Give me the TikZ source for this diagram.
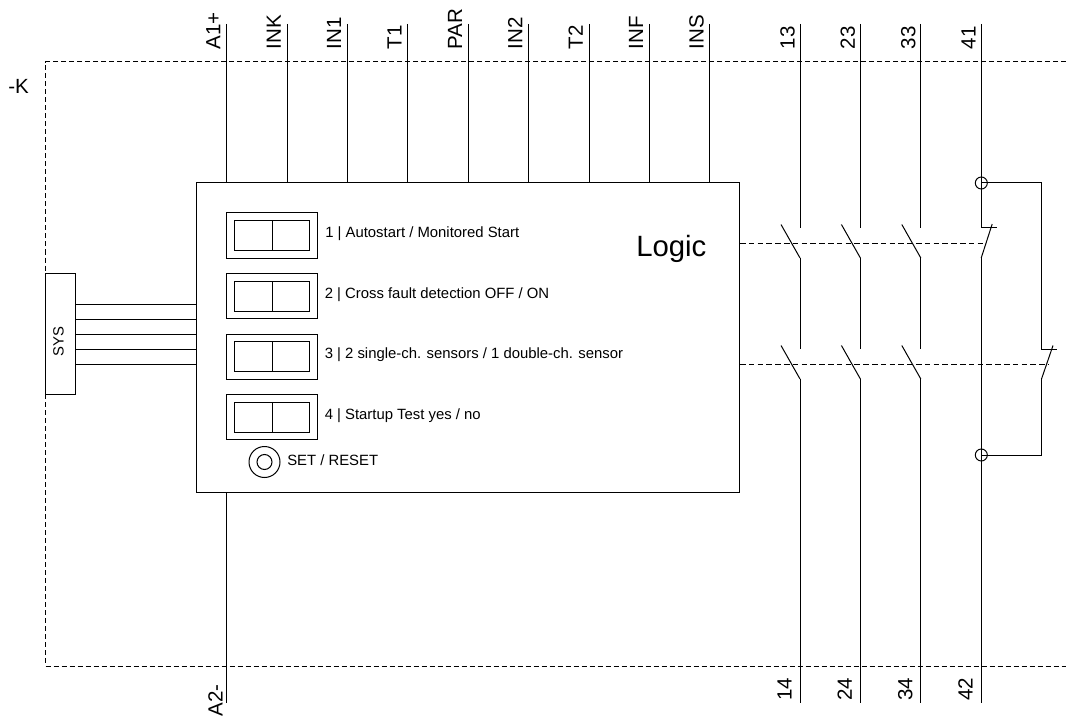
\documentclass[tikz,border=0pt]{standalone}
\usepackage{fontspec}
\setmainfont{Liberation Sans}
\newcommand{\smalltxt}{\fontsize{11.15}{13}\selectfont}
\newcommand{\bigtxt}{\fontsize{15.4}{18}\selectfont}
\newcommand{\hugetxt}{\fontsize{22}{26}\selectfont}
\tikzset{
  wire/.style={draw=black,line width=0.75pt},
  framedash/.style={draw=black,line width=0.75pt,dash pattern=on 3.75pt off 2.25pt},
  mechdash/.style={draw=black,line width=0.75pt,dash pattern=on 4.2pt off 2.4pt},
  boxnode/.style={draw=black,line width=0.75pt,rectangle,inner sep=0pt,outer sep=0pt,anchor=north west},
  ringnode/.style={draw=black,line width=0.75pt,circle,inner sep=0pt,outer sep=0pt},
  termlabel/.style={rotate=90,anchor=base west,inner sep=0pt,font=\bigtxt},
  txt/.style={anchor=base west,inner sep=0pt,font=\smalltxt}
}
\begin{document}
\begin{tikzpicture}[x=0.75pt,y=-0.75pt]
\useasboundingbox (0,0) rectangle (1066,720);
% frame corners and boxes
\node[boxnode,minimum width=407.6pt,minimum height=231.75pt] (logic) at (196.5,183) {};
\node[boxnode,minimum width=22.5pt,minimum height=90.4pt] (sys) at (45.5,273.5) {};
\coordinate (ftr) at (1066,62);
\coordinate (ftl) at (45.5,62);
\coordinate (fbl) at (45.5,666);
\coordinate (fbr) at (1066,666);
\draw[framedash] (ftr) -- (ftl) -- (sys.north west);
\draw[framedash] (sys.south west) -- (fbl) -- (fbr);
\node[anchor=base west,inner sep=0pt,font=\bigtxt] (klabel) at (8,94) {-K};
\node[anchor=base west,inner sep=0pt,font=\hugetxt] (logiclabel) at (636,257) {Logic};
\node[rotate=90,anchor=base,inner sep=0pt,font=\smalltxt] (syslabel) at (63.5,341.5) {SYS};
% SYS bus
\foreach \i/\y in {1/304,2/319.3,3/334,4/349.5,5/364}{
  \coordinate (h\i) at (0,\y);
  \draw[wire] (sys.east |- h\i) -- (logic.west |- h\i);
}
% input terminals
\foreach \n/\x/\t in {a/226.5/A1+,b/287/INK,c/347.4/IN1,d/407.8/T1,e/468.2/PAR,f/528.6/IN2,g/589/T2,h/649.4/INF,i/709.8/INS}{
  \coordinate (t\n) at (\x,24);
  \node[termlabel] (lab\n) at (\x-6.2,49.5) {\t};
  \draw[wire] (t\n) -- (t\n |- logic.north);
}
% A2-
\coordinate (ta2) at (226.5,703);
\node[termlabel] (labA2) at (222.5,716.5) {A2-};
\draw[wire] (ta2 |- logic.south) -- (ta2);
% contacts
\foreach \n/\x/\t/\u in {p/800/13/14,q/860.4/23/24,r/920.8/33/34,s/981.2/41/42}{
  \coordinate (c\n top) at (\x,24);
  \coordinate (c\n bot) at (\x,703);
  \coordinate (c\n ua) at (\x,228);
  \coordinate (c\n ub) at (\x,258);
  \coordinate (c\n la) at (\x,349);
  \coordinate (c\n lb) at (\x,379);
  \node[termlabel] (lab\t) at (\x-5.5,49.5) {\t};
  \node[termlabel] (lab\u) at (\x-8.5,701) {\u};
  \draw[wire] (c\n top) -- (c\n ua);
}
\foreach \n in {p,q,r}{
  \draw[wire] (c\n ub) -- (c\n la);
  \draw[wire] (c\n lb) -- (c\n bot);
  \draw[wire] (c\n ub) -- ++(-19,-33.5);
  \draw[wire] (c\n lb) -- ++(-19,-33.5);
}
% NC contact 41-42
\draw[wire] (csua) -- ++(16,0);
\draw[wire] (csub) -- ++(11,-34);
\draw[wire] (csub) -- (csbot);
% feedback contact
\node[ringnode,minimum size=9pt] (rtop) at (981.3,183) {};
\node[ringnode,minimum size=9pt] (rbot) at (981.3,455) {};
\coordinate (nctop) at (1041.5,183);
\coordinate (ncua) at (1041.5,349);
\coordinate (ncub) at (1041.5,379);
\coordinate (ncbot) at (1041.5,455);
\draw[wire] (rtop.center) -- (nctop) -- (ncua) -- ++(15.5,0);
\draw[wire] (ncub) -- ++(11.5,-33.5);
\draw[wire] (rbot.center) -- (ncbot) -- (ncub);
% mechanical links
\coordinate (m1) at (985,243);
\coordinate (m2) at (1048,364);
\draw[mechdash] (logic.east |- m1) -- (m1);
\draw[mechdash] (logic.east |- m2) -- (m2);
% DIP switches
\foreach \i/\y in {1/213,2/273.5,3/334,4/394.5}{
  \node[boxnode,minimum width=68.25pt,minimum height=33.75pt] (dip\i) at (226.7,\y) {};
  \node[boxnode,minimum width=28.5pt,minimum height=22.5pt] (dipl\i) at (234,\y+7.7) {};
  \node[boxnode,minimum width=28.1pt,minimum height=22.5pt] (dipr\i) at (272,\y+7.7) {};
}
\node[txt] (t1) at (325,237.5) {1 | Autostart / Monitored Start};
\node[txt] (t2) at (324.5,298.5) {2 | Cross fault detection OFF / ON};
\node[txt] (t3) at (324.5,358.5) {3 | 2 single-ch. sensors / 1 double-ch. sensor};
\node[txt] (t4) at (324.5,419.5) {4 | Startup Test yes / no};
\node[ringnode,minimum size=23.25pt] (resetO) at (264.5,462) {};
\node[ringnode,minimum size=11.25pt] (resetI) at (264.5,462) {};
\node[txt] (t5) at (287,465) {SET / RESET};
\end{tikzpicture}
\end{document}
